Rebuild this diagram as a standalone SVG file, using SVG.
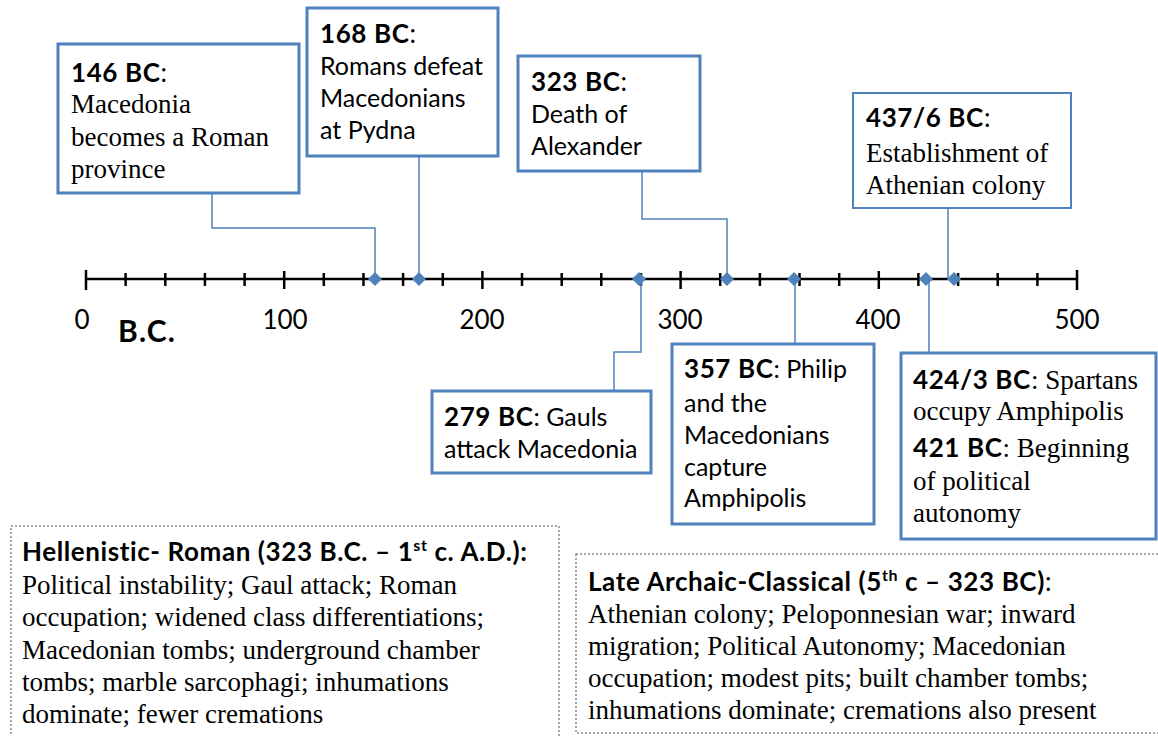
<svg xmlns="http://www.w3.org/2000/svg" width="1158" height="736" viewBox="0 0 1158 736">
<style>
.box{fill:#fff;stroke:#4f81bd;stroke-width:3}
.dot{fill:#fff;stroke:#8c8c8c;stroke-width:1.5;stroke-dasharray:2 2}
.con{fill:none;stroke:#4f81bd;stroke-width:1.5}
.axis{stroke:#000;stroke-width:2.5;fill:none}
.s{font-family:Lato,"Liberation Sans",sans-serif;font-size:25px;fill:#000}
.b{font-family:Lato,"Liberation Sans",sans-serif;font-weight:bold;font-size:26px;letter-spacing:0.6px;fill:#000}
.bc{font-size:30px;letter-spacing:1.2px}
.n{font-weight:normal;letter-spacing:0}
.r{font-family:"Liberation Serif","Times New Roman",serif;font-size:27px;fill:#000}
.lbl{font-family:Lato,"Liberation Sans",sans-serif;font-size:26px;fill:#000;text-anchor:middle}
.dia{fill:#4f81bd}
.thin{stroke-width:2}
</style>
<defs>
<path id="dm" d="M0,-7 L7,0 L0,7 L-7,0 Z" class="dia"/>
</defs>
<rect width="1158" height="736" fill="#fff"/>

<g id="axis">
<line class="axis" x1="86" y1="279" x2="1077" y2="279"/>
<path class="axis" d="M86,270V290M125.6,273V286M165.3,273V286M204.9,273V286M244.6,273V286M284.2,271V289M323.8,273V286M363.5,273V286M403.1,273V286M442.8,273V286M482.4,271V289M522,273V286M561.7,273V286M601.3,273V286M641,273V286M680.6,271V289M720.2,273V286M759.9,273V286M799.5,273V286M839.2,273V286M878.8,271V289M918.4,273V286M958.1,273V286M997.7,273V286M1037.4,273V286M1077,270V290"/>
<text class="lbl" x="82" y="329">0</text>
<text class="lbl" x="285" y="329">100</text>
<text class="lbl" x="482" y="329">200</text>
<text class="lbl" x="680" y="329">300</text>
<text class="lbl" x="878" y="329">400</text>
<text class="lbl" x="1077" y="329">500</text>
<text class="b bc" x="118" y="342">B.C.</text>
</g>

<g id="connectors">
<polyline class="con" points="212,193 212,228 375,228 375,279"/>
<polyline class="con" points="419,156 419,279"/>
<polyline class="con" points="642,171 642,219 727,219 727,279"/>
<polyline class="con" points="948,208 948,279"/>
<polyline class="con" points="641,279 641,352 614,352 614,391"/>
<polyline class="con" points="795,279 795,344"/>
<polyline class="con" points="929,279 929,353"/>
<use href="#dm" x="375" y="279"/>
<use href="#dm" x="419" y="279"/>
<use href="#dm" x="639" y="279"/>
<use href="#dm" x="727" y="279"/>
<use href="#dm" x="794" y="279"/>
<use href="#dm" x="926" y="279"/>
<use href="#dm" x="954" y="279"/>
</g>

<g id="n146">
<rect class="box" x="58" y="44" width="241" height="149"/>
<text class="b" x="71" y="82">146 BC<tspan class="n">:</tspan></text>
<text class="r" x="71" y="113">Macedonia</text>
<text class="r" x="71" y="146">becomes a Roman</text>
<text class="r" x="71" y="178">province</text>
</g>

<g id="n168">
<rect class="box" x="307" y="8" width="191" height="148"/>
<text class="b" x="320" y="43">168 BC<tspan class="n">:</tspan></text>
<text class="s" x="320" y="75">Romans defeat</text>
<text class="s" x="320" y="107">Macedonians</text>
<text class="s" x="320" y="139">at Pydna</text>
</g>

<g id="n323">
<rect class="box" x="518" y="56" width="182" height="115"/>
<text class="b" x="531" y="91">323 BC<tspan class="n">:</tspan></text>
<text class="s" x="531" y="123">Death of</text>
<text class="s" x="531" y="155">Alexander</text>
</g>

<g id="n437">
<rect class="box thin" x="853" y="93" width="218" height="115"/>
<text class="b" x="866" y="127">437/6 BC<tspan class="n">:</tspan></text>
<text class="r" x="866" y="162">Establishment of</text>
<text class="r" x="866" y="194">Athenian colony</text>
</g>

<g id="n279">
<rect class="box" x="432" y="391" width="219" height="82"/>
<text class="s" x="444" y="426"><tspan class="b">279 BC</tspan>: Gauls</text>
<text class="s" x="444" y="458">attack Macedonia</text>
</g>

<g id="n357">
<rect class="box" x="672" y="344" width="202" height="180"/>
<text class="s" x="684" y="378"><tspan class="b">357 BC</tspan>: Philip</text>
<text class="s" x="684" y="412">and the</text>
<text class="s" x="684" y="444">Macedonians</text>
<text class="s" x="684" y="476">capture</text>
<text class="s" x="684" y="507">Amphipolis</text>
</g>

<g id="n424">
<rect class="box" x="901" y="353" width="255" height="186"/>
<text class="r" x="913" y="389"><tspan class="b">424/3 BC</tspan>: Spartans</text>
<text class="r" x="913" y="420">occupy Amphipolis</text>
<text class="r" x="913" y="457"><tspan class="b">421 BC</tspan>: Beginning</text>
<text class="r" x="913" y="490">of political</text>
<text class="r" x="913" y="522">autonomy</text>
</g>

<g id="hellenistic">
<rect class="dot" x="11" y="526" width="548" height="220"/>
<text class="b" x="22" y="561">Hellenistic- Roman (323 B.C. – 1<tspan font-size="16" dy="-10">st</tspan><tspan dy="10"> c. A.D.):</tspan></text>
<text class="r" x="22" y="594">Political instability; Gaul attack; Roman</text>
<text class="r" x="22" y="626">occupation; widened class differentiations;</text>
<text class="r" x="22" y="659">Macedonian tombs; underground chamber</text>
<text class="r" x="22" y="691">tombs; marble sarcophagi; inhumations</text>
<text class="r" x="22" y="723">dominate; fewer cremations</text>
</g>

<g id="archaic">
<rect class="dot" x="576" y="554" width="600" height="179"/>
<text class="b" x="588" y="591">Late Archaic-Classical (5<tspan font-size="16" dy="-10">th</tspan><tspan dy="10"> c – 323 BC)</tspan><tspan class="n">:</tspan></text>
<text class="r" x="588" y="623">Athenian colony; Peloponnesian war; inward</text>
<text class="r" x="588" y="655">migration; Political Autonomy; Macedonian</text>
<text class="r" x="588" y="687">occupation; modest pits; built chamber tombs;</text>
<text class="r" x="588" y="719">inhumations dominate; cremations also present</text>
</g>
</svg>
